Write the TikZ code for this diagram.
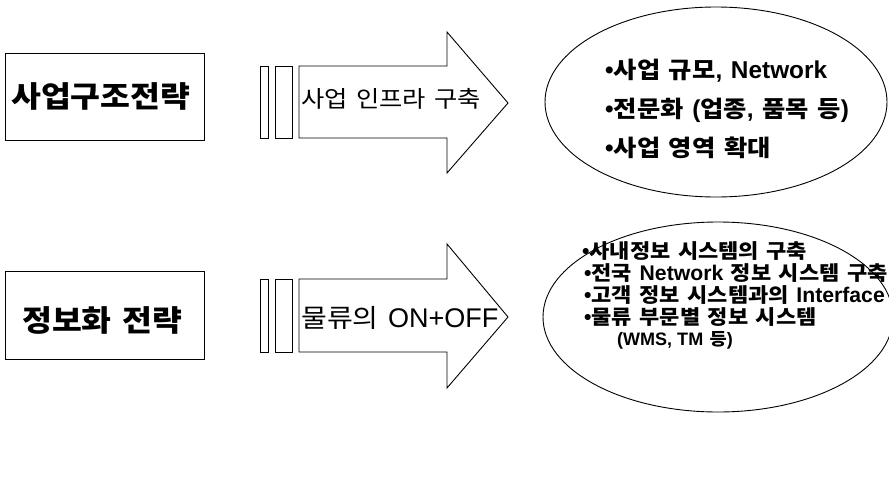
\documentclass[tikz,border=0pt]{standalone}
\usepackage{fontspec}
\setmainfont{Noto Sans CJK KR}[FakeStretch=1.1, WordSpace=1.5]
\newfontfamily\latf{Liberation Sans}[Scale=1.06]
\newcommand\lt[1]{{\latf #1}}
\usetikzlibrary{shapes.geometric}
\tikzset{
  line/.style={draw=black, line width=0.9pt},
  stratbox/.style={line, rectangle, minimum width=199pt, minimum height=87pt, inner sep=0pt},
  oval/.style={line, ellipse, inner sep=0pt},
  bigtxt/.style={anchor=base west, inner sep=0pt, font=\fontsize{29.5}{34}\selectfont\bfseries},
  arrtxt/.style={anchor=base west, inner sep=0pt, font=\fontsize{23}{27}\selectfont},
  arrtxtb/.style={anchor=base west, inner sep=0pt, font=\fontsize{25.5}{30}\selectfont},
  ovtxt/.style={anchor=base west, inner sep=0pt, font=\fontsize{23}{27}\selectfont\bfseries},
  ovtxtb/.style={anchor=base west, inner sep=0pt, font=\fontsize{20}{24}\selectfont\bfseries},
}
\begin{document}
\begin{tikzpicture}[x=1pt, y=-1pt]
\useasboundingbox (0,0) rectangle (889,501);
\clip (0,0) rectangle (889,501);
\fill[white] (0,0) rectangle (889,501);

% row 1
\node[stratbox] (box1) at (104.5,96.5) {};
\node[bigtxt] (box1t) at (11,107) {사업구조전략};
\draw[line] (260,66) rectangle (268,138);
\draw[line] (275,66) rectangle (292,138);
\draw[line] (299,66) -- (447,66) -- (447,32) -- (508,103) -- (447,173) -- (447,138) -- (299,138) -- cycle;
\node[arrtxt] (arr1t) at (301,107) {사업 인프라 구축};
\node[oval, minimum width=342pt, minimum height=190pt] (ell1) at (716,102) {};
\node[ovtxt] (e1a) at (605,78) {\lt{•}사업 규모\lt{,} \lt{Network}};
\node[ovtxt] (e1b) at (605,117) {\lt{•}전문화 \lt{(}업종\lt{,} 품목 등\lt{)}};
\node[ovtxt] (e1c) at (605,156) {\lt{•}사업 영역 확대};

% row 2
\node[stratbox, minimum height=88pt] (box2) at (104.5,315) {};
\node[bigtxt] (box2t) at (22,331) {정보화 전략};
\draw[line] (260,279) rectangle (268,352);
\draw[line] (275,279) rectangle (292,352);
\draw[line] (299,279) -- (447,279) -- (447,244) -- (508,317) -- (447,388) -- (447,352) -- (299,352) -- cycle;
\node[arrtxtb] (arr2t) at (301,327) {물류의 \lt{ON+OFF}};
\node[oval, minimum width=350pt, minimum height=190pt] (ell2) at (718,317) {};
\node[ovtxtb] (e2a) at (582,258) {\lt{•}사내정보 시스템의 구축};
\node[ovtxtb] (e2b) at (584,280) {\lt{•}전국 \lt{Network} 정보 시스템 구축};
\node[ovtxtb] (e2c) at (584,302) {\lt{•}고객 정보 시스템과의 \lt{Interface}};
\node[ovtxtb] (e2d) at (584,324) {\lt{•}물류 부문별 정보 시스템};
\node[ovtxtb, font=\fontsize{17}{20}\selectfont\bfseries] (e2e) at (617,345) {\lt{(WMS, TM} 등\lt{)}};
\end{tikzpicture}
\end{document}
